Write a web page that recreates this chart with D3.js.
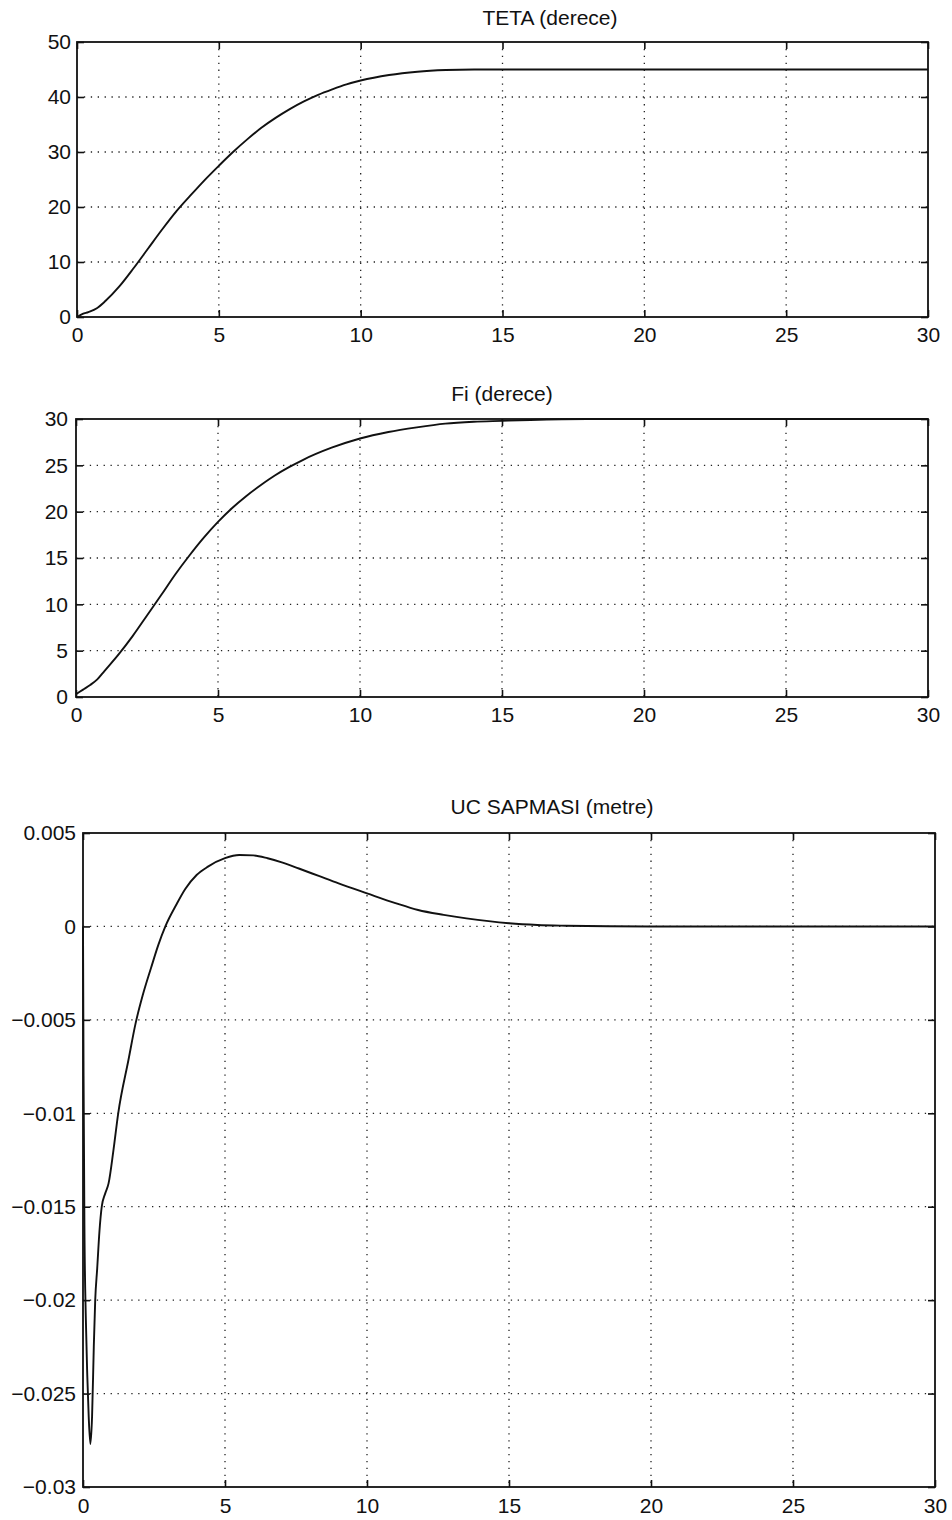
<!DOCTYPE html>
<html>
<head>
<meta charset="utf-8">
<script src="https://cdn.jsdelivr.net/npm/d3@7"></script>
<style>
  html, body { margin: 0; padding: 0; background: #fff; }
  svg { display: block; }
  text { font-family: "Liberation Sans", Arial, Helvetica, sans-serif; fill: #111; }
</style>
</head>
<body>
<svg id="fig" width="952" height="1520"></svg>
<script>
// Time ticks shared by all panels (seconds)
const xTicks = [0, 5, 10, 15, 20, 25, 30];

// TETA (derece)
const tetaT = [0, 0.2, 0.4, 0.7, 1, 1.5, 2, 2.5, 3, 3.5, 4, 4.5, 5, 5.5, 6, 6.5, 7, 7.5, 8, 8.5, 9, 9.5, 10, 11, 12, 13, 14, 15, 17, 20, 25, 30];
const tetaV = [0, 0.55, 0.9, 1.6, 2.9, 5.6, 8.9, 12.4, 15.9, 19.2, 22.1, 24.9, 27.5, 30.0, 32.3, 34.4, 36.2, 37.8, 39.2, 40.4, 41.4, 42.3, 43.0, 44.0, 44.6, 44.9, 45.0, 45.0, 45.0, 45.0, 45.0, 45.0];
const tetaTicks = [0, 10, 20, 30, 40, 50];

// Fi (derece)
const fiT = [0, 0.25, 0.5, 0.75, 1, 1.5, 2, 2.5, 3, 3.5, 4, 4.5, 5, 5.5, 6, 6.5, 7, 7.5, 8, 9, 10, 11, 12, 13, 14, 15, 16, 18, 20, 25, 30];
const fiV = [0.3, 0.8, 1.3, 1.9, 2.8, 4.6, 6.6, 8.8, 11.0, 13.25, 15.3, 17.2, 18.9, 20.4, 21.7, 22.85, 23.9, 24.8, 25.6, 26.9, 27.9, 28.6, 29.1, 29.5, 29.7, 29.8, 29.9, 30, 30, 30, 30];
const fiTicks = [0, 5, 10, 15, 20, 25, 30];

// UC SAPMASI (metre)
const ucT = [0, 0.02, 0.05, 0.1, 0.15, 0.2, 0.26, 0.32, 0.38, 0.43, 0.5, 0.58, 0.66, 0.78, 0.9, 1.07, 1.24, 1.6, 1.85, 2.1, 2.4, 2.65, 2.9, 3.3, 3.6, 4.0, 4.4, 5.0, 5.5, 6.0, 6.5, 7.0, 7.6, 8.3, 9.0, 10, 11, 11.8, 12.7, 13.5, 15, 16, 17, 18.5, 20, 25, 30];
const ucV = [0, -0.008, -0.016, -0.021, -0.024, -0.0262, -0.0277, -0.0262, -0.0225, -0.0200, -0.0183, -0.0163, -0.0150, -0.0143, -0.01375, -0.0120, -0.0100, -0.00715, -0.0052, -0.0037, -0.0022, -0.0010, 0, 0.0012, 0.0020, 0.00275, 0.0032, 0.00365, 0.00382, 0.0038, 0.00365, 0.00343, 0.0031, 0.0027, 0.0023, 0.00177, 0.00125, 0.00088, 0.00062, 0.00043, 0.00017, 0.00008, 0.00004, 0.00001, 0, 0, 0];
const ucTicks = [0.005, 0, -0.005, -0.01, -0.015, -0.02, -0.025, -0.03];
const ucTickText = ["0.005", "0", "\u22120.005", "\u22120.01", "\u22120.015", "\u22120.02", "\u22120.025", "\u22120.03"];

const svg = d3.select("#fig");

function panel(cfg) {
  const x = d3.scaleLinear().domain([0, 30]).range([cfg.left, cfg.right]);
  const y = d3.scaleLinear().domain(cfg.yDomain).range([cfg.bottom, cfg.top]);
  const g = svg.append("g");
  const tick = 7;

  // dotted grid
  const grid = g.append("g")
    .attr("stroke", "#222").attr("stroke-width", 1.3)
    .attr("stroke-dasharray", "1.3 5.6").attr("fill", "none");
  xTicks.slice(1, -1).forEach(v => {
    grid.append("line").attr("x1", x(v)).attr("x2", x(v))
      .attr("y1", cfg.top).attr("y2", cfg.bottom);
  });
  cfg.yTicks.filter(v => v !== cfg.yDomain[0] && v !== cfg.yDomain[1]).forEach(v => {
    grid.append("line").attr("x1", cfg.left).attr("x2", cfg.right)
      .attr("y1", y(v)).attr("y2", y(v));
  });

  // inward ticks on all four sides
  const bottomAxis = d3.axisBottom(x).tickValues(xTicks).tickSizeInner(-tick).tickSizeOuter(0).tickPadding(10)
    .tickFormat(d3.format("d"));
  const topAxis = d3.axisTop(x).tickValues(xTicks).tickSizeInner(-tick).tickSizeOuter(0).tickFormat("");
  const leftAxis = d3.axisLeft(y).tickValues(cfg.yTicks).tickSizeInner(-tick).tickSizeOuter(0).tickPadding(cfg.yPad)
    .tickFormat((d, i) => cfg.yText ? cfg.yText[i] : d3.format("d")(d));
  const rightAxis = d3.axisRight(y).tickValues(cfg.yTicks).tickSizeInner(-tick).tickSizeOuter(0).tickFormat("");

  const styleAxis = sel => {
    sel.select(".domain").remove();
    sel.selectAll(".tick line").attr("stroke", "#111").attr("stroke-width", 1.6);
    sel.selectAll(".tick text").attr("font-size", cfg.fontSize).attr("fill", "#111");
  };
  g.append("g").attr("transform", `translate(0,${cfg.bottom})`).call(bottomAxis).call(styleAxis)
    .selectAll(".tick text").attr("dy", null).attr("y", cfg.xLabelDy);
  g.append("g").attr("transform", `translate(0,${cfg.top})`).call(topAxis).call(styleAxis);
  g.append("g").attr("transform", `translate(${cfg.left},0)`).call(leftAxis).call(styleAxis);
  g.append("g").attr("transform", `translate(${cfg.right},0)`).call(rightAxis).call(styleAxis);

  // frame
  g.append("rect")
    .attr("x", cfg.left).attr("y", cfg.top)
    .attr("width", cfg.right - cfg.left).attr("height", cfg.bottom - cfg.top)
    .attr("fill", "none").attr("stroke", "#111").attr("stroke-width", 1.8);

  // response curve
  const line = d3.line()
    .x((d, i) => x(cfg.t[i]))
    .y(d => y(d))
    .curve(d3.curveMonotoneX);
  g.append("path").datum(cfg.v)
    .attr("d", line)
    .attr("fill", "none").attr("stroke", "#111").attr("stroke-width", 1.9)
    .attr("stroke-linejoin", "round");

  // title
  g.append("text")
    .attr("x", cfg.titleX).attr("y", cfg.titleY)
    .attr("text-anchor", "middle").attr("font-size", cfg.titleSize)
    .text(cfg.title);
}

panel({
  left: 77, right: 928, top: 42, bottom: 317,
  yDomain: [0, 50], yTicks: tetaTicks,
  t: tetaT, v: tetaV,
  title: "TETA (derece)", titleX: 550, titleY: 25, titleSize: 21,
  fontSize: 21, yPad: 6, xLabelDy: 25
});

panel({
  left: 76, right: 928, top: 419, bottom: 697,
  yDomain: [0, 30], yTicks: fiTicks,
  t: fiT, v: fiV,
  title: "Fi (derece)", titleX: 502, titleY: 401, titleSize: 21,
  fontSize: 21, yPad: 8, xLabelDy: 25
});

panel({
  left: 83, right: 935, top: 833, bottom: 1487,
  yDomain: [-0.03, 0.005], yTicks: ucTicks, yText: ucTickText,
  t: ucT, v: ucV,
  title: "UC SAPMASI (metre)", titleX: 552, titleY: 814, titleSize: 21,
  fontSize: 21, yPad: 7, xLabelDy: 26
});
</script>
</body>
</html>
